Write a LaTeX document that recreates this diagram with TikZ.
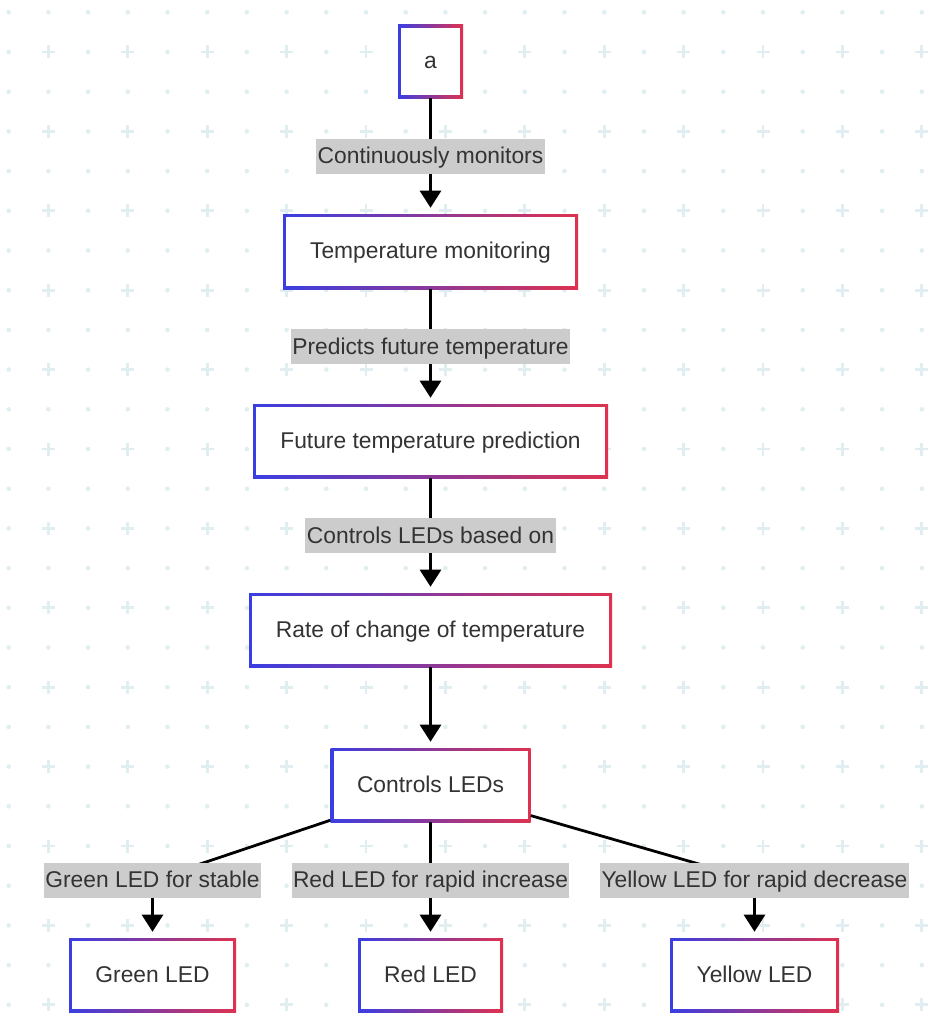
\documentclass[tikz,border=0pt]{standalone}
\usepackage{fontspec}
\setmainfont{Liberation Sans}
\usetikzlibrary{arrows.meta}
\definecolor{gblue}{RGB}{58,62,226}
\definecolor{gred}{RGB}{222,50,80}
\definecolor{gridc}{RGB}{224,238,242}
\definecolor{txt}{RGB}{51,51,51}
\definecolor{lblbg}{RGB}{204,204,204}
\tikzset{
  box/.style={rectangle, left color=gblue, right color=gred, minimum height=55.5pt,
    inner sep=0pt, text=txt, font=\fontsize{17.1}{20}\selectfont,
    text height=13pt, text depth=2.3pt,
    path picture={\fill[white] ([shift={(2.25pt,-2.25pt)}]path picture bounding box.north west)
      rectangle ([shift={(-2.25pt,2.25pt)}]path picture bounding box.south east);}},
  lbl/.style={rectangle, fill=lblbg, text=txt, inner xsep=1.1pt, inner ysep=0pt,
    text height=13.5pt, text depth=2.2pt,
    minimum height=26.25pt, font=\fontsize{17.1}{20}\selectfont},
  edge/.style={line width=2.1pt, -{Triangle[length=12.75pt,width=15.75pt]}, shorten >=4.5pt},
  dotc/.style={fill=gridc},
  crossc/.style={draw=gridc, line width=2.2pt}
}
\begin{document}
\begin{tikzpicture}[x=0.75pt,y=-0.75pt]
\useasboundingbox (0,0) rectangle (946,1024);
% background grid
\foreach \i in {0,...,23}{
  \foreach \j in {0,...,25}{
    \pgfmathsetmacro{\xx}{8.7+39.7*\i}
    \pgfmathsetmacro{\yy}{12.3+39.7*\j}
    \pgfmathtruncatemacro{\odd}{(mod(\i,2)==1)&&(mod(\j,2)==1)}
    \ifnum\odd=1
      \draw[crossc] (\xx-6.5,\yy) -- (\xx+6.5,\yy) (\xx,\yy-6.5) -- (\xx,\yy+6.5);
    \else
      \fill[dotc] (\xx,\yy) circle (2.3);
    \fi
  }
}
% nodes
\node[box, minimum width=48.75pt, minimum height=54.75pt] (a) at (430.5,61.5) {a};
\node[box, minimum width=221.25pt, minimum height=56.25pt] (tm) at (430.5,251.5) {Temperature monitoring};
\node[box, minimum width=266.25pt] (fp) at (430.5,441) {Future temperature prediction};
\node[box, minimum width=272.25pt] (rc) at (430.5,630) {Rate of change of temperature};
\node[box, minimum width=150pt] (ctl) at (430.5,785) {Controls LEDs};
\node[box, minimum width=125.25pt] (green) at (152.5,975) {Green LED};
\node[box, minimum width=108.75pt] (red) at (430.5,975) {Red LED};
\node[box, minimum width=126.75pt] (yellow) at (754.5,975) {Yellow LED};
% edges
\draw[edge] (a) -- node[lbl]{Continuously monitors} (tm);
\draw[edge] (tm) -- node[lbl]{Predicts future temperature} (fp);
\draw[edge] (fp) -- node[lbl]{Controls LEDs based on} (rc);
\draw[edge] (rc) -- (ctl);
\coordinate (gk) at (152.5,880);
\coordinate (rk) at (430.5,880);
\coordinate (yk) at (754.5,880);
\draw[edge] ([yshift=1.5pt]ctl.south west) -- (gk) node[lbl]{Green LED for stable} -- (green.north);
\draw[edge] (ctl.south) -- (rk) node[lbl]{Red LED for rapid increase} -- (red.north);
\draw[edge] ([yshift=5pt]ctl.south east) -- (yk) node[lbl]{Yellow LED for rapid decrease} -- (yellow.north);
\end{tikzpicture}
\end{document}
